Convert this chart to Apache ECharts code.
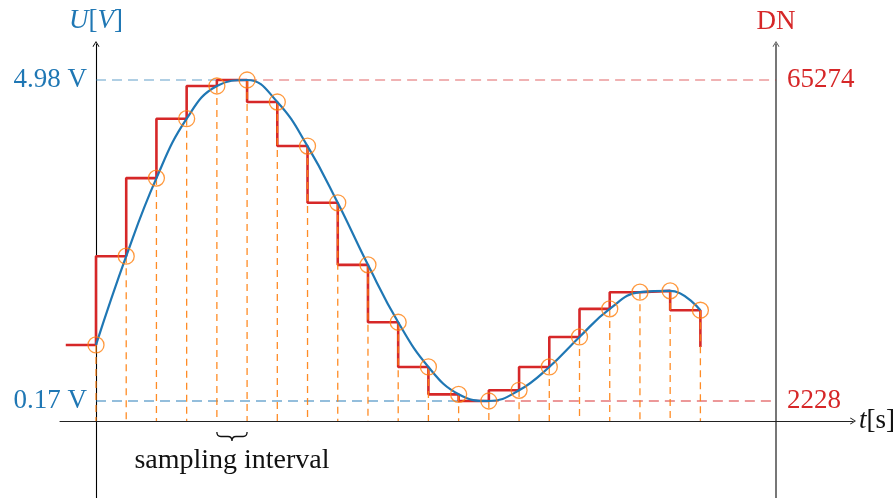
<!DOCTYPE html>
<html>
<head>
<meta charset="utf-8">
<script src="https://cdn.jsdelivr.net/npm/echarts@6/dist/echarts.min.js"></script>
<style>
  html, body { margin: 0; padding: 0; background: #fff; }
  #chart { width: 896px; height: 498px; }
</style>
</head>
<body>
<div id="chart"></div>
<script>
// Sample instants (in sampling intervals) and the sampled voltage U [V]
const sampleT = [0, 1, 2, 3, 4, 5, 6, 7, 8, 9, 10, 11, 12, 13, 14, 15, 16, 17, 18, 19, 20];
const sampleU = [1.01, 2.34, 3.51, 4.40, 4.89, 4.98, 4.65, 3.99, 3.14, 2.21, 1.35,
                 0.68, 0.27, 0.17, 0.33, 0.68, 1.13, 1.55, 1.80, 1.82, 1.53];

// Extra points of the held (stair-case) signal before the first and after the last sample
const holdLead = [-1, 1.01];
const holdTail = [20, 0.98];

// Marked levels: voltage, matching digital number, index of the sample reaching it
const levelU = [4.98, 0.17];
const levelDN = [65274, 2228];
const levelSample = [5, 13];
const levelOpacity = [0.7, 0.95];

// Digital-number scale: full 16 bit range over 5 V
const dnPerVolt = 65535 / 5;

// Axis geometry (in data units)
const tMin = -1.191, tMax = 25.05;
const uMin = -1.2835, uMax = 5.5194;
const tAxisLevel = -0.1297;   // voltage at which the time axis runs
const dnAxisT = 22.5;         // time at which the DN axis stands
const braceFrom = 4, braceTo = 5;

const BLUE = '#1f77b4', RED = '#d62728', ORANGE = '#ff7f0e';
const SERIF = '"Liberation Serif", "DejaVu Serif", serif';
const ARROW = 'path://M0,8 L5,0 L10,8 L9,8.7 L5,2.3 L1,8.7 Z';

const samples = sampleT.map((t, i) => [t, sampleU[i]]);
const held = [holdLead].concat(samples, [holdTail]);

// Dashed guide lines: blue from the U axis to the sample, red from the sample to the DN axis
const guideSeries = [];
levelU.forEach((u, i) => {
  const ts = sampleT[levelSample[i]];
  guideSeries.push({
    type: 'line', data: [[0, u], [ts, u]], showSymbol: false, silent: true, z: 1,
    lineStyle: { color: BLUE, width: 1.2, type: [10, 6], opacity: levelOpacity[i] }
  });
  guideSeries.push({
    type: 'line', data: [[ts, u], [dnAxisT, u]], showSymbol: false, silent: true, z: 1,
    lineStyle: { color: RED, width: 1.2, type: [10, 6], opacity: levelOpacity[i] }
  });
});

const chart = echarts.init(document.getElementById('chart'), null, { renderer: 'canvas' });

chart.setOption({
  animation: false,
  backgroundColor: '#fff',
  grid: { left: 60, right: 43, top: 44, bottom: 0, containLabel: false, outerBoundsMode: 'none' },
  xAxis: {
    type: 'value', min: tMin, max: tMax,
    offset: -77,
    axisLine: { onZero: false, symbol: ['none', ARROW], symbolSize: [9, 6],
                lineStyle: { color: '#222', width: 1.1 } },
    axisTick: { show: false }, axisLabel: { show: false }, splitLine: { show: false },
    name: '{i|t}[s]', nameLocation: 'end', nameGap: 6,
    nameTextStyle: { color: '#111', fontFamily: SERIF, fontSize: 27, verticalAlign: 'middle',
                     rich: { i: { fontStyle: 'italic', fontFamily: SERIF, fontSize: 27, color: '#111' } } }
  },
  yAxis: [
    {
      // U axis stands at t = 0
      type: 'value', min: uMin, max: uMax, position: 'left', offset: -36,
      axisLine: { onZero: false, symbol: ['none', ARROW], symbolSize: [9, 6],
                  lineStyle: { color: '#000', width: 1.1 } },
      axisTick: { show: false }, splitLine: { show: false },
      axisLabel: { customValues: levelU, formatter: v => v.toFixed(2) + ' V',
                   color: BLUE, fontFamily: SERIF, fontSize: 27, margin: 9 },
      name: '{i|U}[{i|V}]', nameLocation: 'end', nameGap: 10,
      nameTextStyle: { color: BLUE, fontFamily: SERIF, fontSize: 27,
                       rich: { i: { fontStyle: 'italic', fontFamily: SERIF, fontSize: 27, color: BLUE } } }
    },
    {
      // DN axis stands at t = dnAxisT
      type: 'value', position: 'right', offset: -77,
      min: uMin * dnPerVolt, max: uMax * dnPerVolt,
      axisLine: { show: true, onZero: false, symbol: ['none', ARROW], symbolSize: [9, 6],
                  lineStyle: { color: '#555', width: 1.6 } },
      axisTick: { show: false }, splitLine: { show: false },
      axisLabel: { customValues: levelDN, formatter: v => String(Math.round(v)),
                   color: RED, fontFamily: SERIF, fontSize: 27, margin: 11 },
      name: 'DN', nameLocation: 'end', nameGap: 9,
      nameTextStyle: { color: RED, fontFamily: SERIF, fontSize: 27 }
    }
  ],
  series: [
    // Held signal
    {
      type: 'line', data: held, step: 'start', showSymbol: false, silent: true, z: 2,
      lineStyle: { color: RED, width: 2.6 }
    },
    // Drop lines from each sample to the time axis
    {
      type: 'custom', data: samples, silent: true, z: 3,
      renderItem: (params, api) => {
        const p1 = api.coord([api.value(0), api.value(1)]);
        const p2 = api.coord([api.value(0), tAxisLevel]);
        return {
          type: 'line',
          shape: { x1: p1[0], y1: p1[1], x2: p2[0], y2: p2[1] },
          style: { stroke: ORANGE, lineWidth: 1.3, lineDash: [7, 5], opacity: 0.9 }
        };
      }
    },
    // Analogue signal
    {
      type: 'line', data: samples, smooth: 0.45, showSymbol: false, silent: true, z: 4,
      lineStyle: { color: BLUE, width: 2.2 }
    },
    ...guideSeries,
    // Sample markers
    {
      type: 'scatter', data: samples, symbol: 'circle', symbolSize: 16, silent: true, z: 5,
      itemStyle: { color: 'rgba(0,0,0,0)', borderColor: ORANGE, borderWidth: 1.3 }
    },
    // Brace under one sampling interval
    {
      type: 'custom', data: [[braceFrom, braceTo]], silent: true, z: 5,
      renderItem: (params, api) => {
        const a = api.coord([api.value(0), tAxisLevel]);
        const b = api.coord([api.value(1), tAxisLevel]);
        const x0 = a[0], x1 = b[0], mid = (x0 + x1) / 2;
        const y0 = a[1] + 11, h = 9, ym = y0 + h * 0.5, r = 4;
        const path = `M${x0},${y0} Q${x0},${ym} ${x0 + r},${ym} L${mid - r},${ym} ` +
                     `Q${mid},${ym} ${mid},${y0 + h} Q${mid},${ym} ${mid + r},${ym} ` +
                     `L${x1 - r},${ym} Q${x1},${ym} ${x1},${y0}`;
        return {
          type: 'group',
          children: [
            { type: 'path', shape: { pathData: path },
              style: { stroke: '#111', lineWidth: 1.3, fill: null } },
            { type: 'text', x: mid, y: a[1] + 40,
              style: { text: 'sampling interval', fill: '#111', font: '28px ' + SERIF,
                       align: 'center', verticalAlign: 'middle' } }
          ]
        };
      }
    }
  ]
});
</script>
</body>
</html>
